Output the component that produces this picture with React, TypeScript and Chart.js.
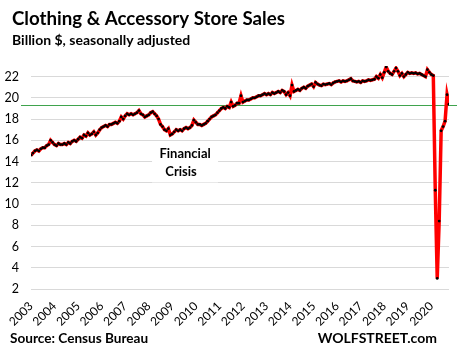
import React, { useEffect, useRef } from "react";
import { Chart, registerables } from "chart.js";

Chart.register(...registerables);

const startYear = 2003;
const yearLabels = ["2003","2004","2005","2006","2007","2008","2009","2010","2011","2012","2013","2014","2015","2016","2017","2018","2019","2020"];

const v2003 = [14.6, 14.8, 15.0, 15.1, 15.0, 15.2, 15.3, 15.3, 15.5, 15.6, 16.0, 15.8];
const v2004 = [15.6, 15.5, 15.7, 15.6, 15.6, 15.7, 15.6, 15.8, 15.7, 15.9, 16.0, 15.9];
const v2005 = [16.1, 16.3, 16.2, 16.5, 16.4, 16.7, 16.5, 16.6, 16.8, 16.5, 16.7, 17.0];
const v2006 = [17.2, 17.3, 17.4, 17.3, 17.5, 17.5, 17.6, 17.7, 17.6, 17.8, 18.2, 18.0];
const v2007 = [18.3, 18.5, 18.4, 18.5, 18.4, 18.5, 18.6, 18.8, 18.5, 18.4, 18.2, 18.3];
const v2008 = [18.4, 18.6, 18.7, 18.5, 18.3, 18.0, 17.5, 17.3, 17.0, 16.9, 17.1, 16.5];
const v2009 = [16.6, 16.8, 17.0, 16.9, 17.0, 16.9, 17.1, 17.2, 17.1, 17.2, 17.4, 17.9];
const v2010 = [17.7, 17.5, 17.5, 17.4, 17.5, 17.6, 17.8, 18.0, 18.2, 18.3, 18.4, 18.6];
const v2011 = [18.8, 19.0, 19.1, 19.0, 19.2, 19.1, 19.6, 19.2, 19.3, 19.5, 19.5, 20.2];
const v2012 = [19.6, 19.7, 19.8, 19.8, 19.9, 20.0, 20.0, 20.1, 20.2, 20.2, 20.3, 20.4];
const v2013 = [20.3, 20.4, 20.3, 20.5, 20.4, 20.5, 20.6, 20.5, 20.7, 20.6, 20.3, 20.5];
const v2014 = [20.2, 21.2, 20.6, 20.7, 20.8, 20.7, 20.9, 21.0, 20.9, 21.1, 21.2, 21.3];
const v2015 = [21.05, 21.45, 21.3, 21.2, 21.15, 21.3, 21.25, 21.3, 21.35, 21.25, 21.4, 21.5];
const v2016 = [21.55, 21.6, 21.5, 21.6, 21.55, 21.6, 21.7, 21.8, 21.6, 21.55, 21.5, 21.55];
const v2017 = [21.45, 21.6, 21.55, 21.6, 21.7, 21.65, 21.7, 21.75, 22.0, 21.85, 22.2, 21.9];
const v2018 = [22.4, 22.9, 22.5, 22.3, 22.2, 22.5, 22.8, 22.5, 22.1, 22.3, 22.0, 22.2];
const v2019 = [22.4, 22.3, 22.35, 22.3, 22.35, 22.25, 22.3, 22.2, 22.1, 22.0, 22.65, 22.4];
const v2020 = [22.2, 22.1, 11.3, 3.0, 8.4, 16.9, 17.3, 17.8, 20.3, 19.4];

const salesValues = [
  ...v2003, ...v2004, ...v2005, ...v2006, ...v2007, ...v2008, ...v2009, ...v2010, ...v2011,
  ...v2012, ...v2013, ...v2014, ...v2015, ...v2016, ...v2017, ...v2018, ...v2019, ...v2020,
];

const referenceLevel = 19.35;
const yTicks = [2, 4, 6, 8, 10, 12, 14, 16, 18, 20, 22];

const FONT = "Lato, 'Open Sans', sans-serif";

export default function App() {
  const ref = useRef<HTMLCanvasElement | null>(null);

  useEffect(() => {
    document.body.style.margin = "0";
    const canvas = ref.current;
    if (!canvas) return;

    const points = salesValues.map((v, i) => ({ x: i, y: v }));

    const overlay = {
      id: "overlay",
      beforeDatasetsDraw(chart: any) {
        const { ctx, scales } = chart;
        const y = scales.y.getPixelForValue(referenceLevel);
        ctx.save();
        ctx.strokeStyle = "#3fa34d";
        ctx.lineWidth = 1;
        ctx.beginPath();
        ctx.moveTo(21, Math.round(y) + 0.5);
        ctx.lineTo(chart.width, Math.round(y) + 0.5);
        ctx.stroke();
        ctx.restore();
      },
      afterDraw(chart: any) {
        const { ctx, scales } = chart;
        ctx.save();
        const ax = scales.x.getPixelForValue(78);
        const ay = scales.y.getPixelForValue(14.3);
        ctx.font = `bold 13px ${FONT}`;
        ctx.textAlign = "center";
        ctx.textBaseline = "alphabetic";
        ctx.fillStyle = "#fff";
        ctx.fillRect(ax - 32, ay - 14, 66, 38);
        ctx.fillStyle = "#000";
        ctx.fillText("Financial", ax + 1, ay);
        ctx.fillText("Crisis", ax - 3, ay + 18);

        ctx.textAlign = "left";
        ctx.fillStyle = "#000";
        ctx.font = `bold 18.7px ${FONT}`;
        ctx.fillText("Clothing & Accessory Store Sales", 12, 25);
        ctx.font = `bold 14px ${FONT}`;
        ctx.fillText("Billion $, seasonally adjusted", 12, 45);
        ctx.font = `bold 13.6px ${FONT}`;
        ctx.fillText("Source: Census Bureau", 10, 343);
        ctx.font = `bold 14px ${FONT}`;
        ctx.textAlign = "right";
        ctx.fillText("WOLFSTREET.com", 437, 343);
        ctx.restore();
      },
    };

    const chart = new Chart(canvas, {
      type: "line",
      data: {
        datasets: [
          {
            data: points,
            borderColor: "#ff0000",
            borderWidth: 3.5,
            pointRadius: 1.4,
            pointBackgroundColor: "#000",
            pointBorderWidth: 0,
            tension: 0,
          },
        ],
      },
      options: {
        animation: false,
        responsive: false,
        maintainAspectRatio: false,
        layout: { padding: { left: 0, right: 8, top: 66, bottom: 0 } },
        plugins: { legend: { display: false }, tooltip: { enabled: false } },
        scales: {
          x: {
            type: "linear",
            min: 0,
            max: salesValues.length - 1,
            grid: { display: false },
            border: { display: false },
            afterFit(scale: any) {
              scale.height = 70;
            },
            afterBuildTicks(scale: any) {
              scale.ticks = yearLabels.map((_, i) => ({ value: i * 12 }));
            },
            ticks: {
              autoSkip: false,
              maxRotation: 45,
              minRotation: 45,
              padding: 2,
              color: "#000",
              font: { family: FONT, size: 12 },
              callback: (v: any) => String(startYear + Math.round(Number(v) / 12)),
            },
          },
          y: {
            min: 2,
            max: 23,
            grid: { color: "#d9d9d9", lineWidth: 1, drawTicks: false },
            border: { display: false },
            afterFit(scale: any) {
              scale.width = 31;
            },
            afterBuildTicks(scale: any) {
              scale.ticks = yTicks.map((v) => ({ value: v }));
            },
            ticks: {
              padding: 12,
              color: "#000",
              font: { family: FONT, size: 12.5 },
            },
          },
        },
      },
      plugins: [overlay],
    });

    return () => chart.destroy();
  }, []);

  return <canvas ref={ref} width={457} height={359} style={{ display: "block" }} />;
}
